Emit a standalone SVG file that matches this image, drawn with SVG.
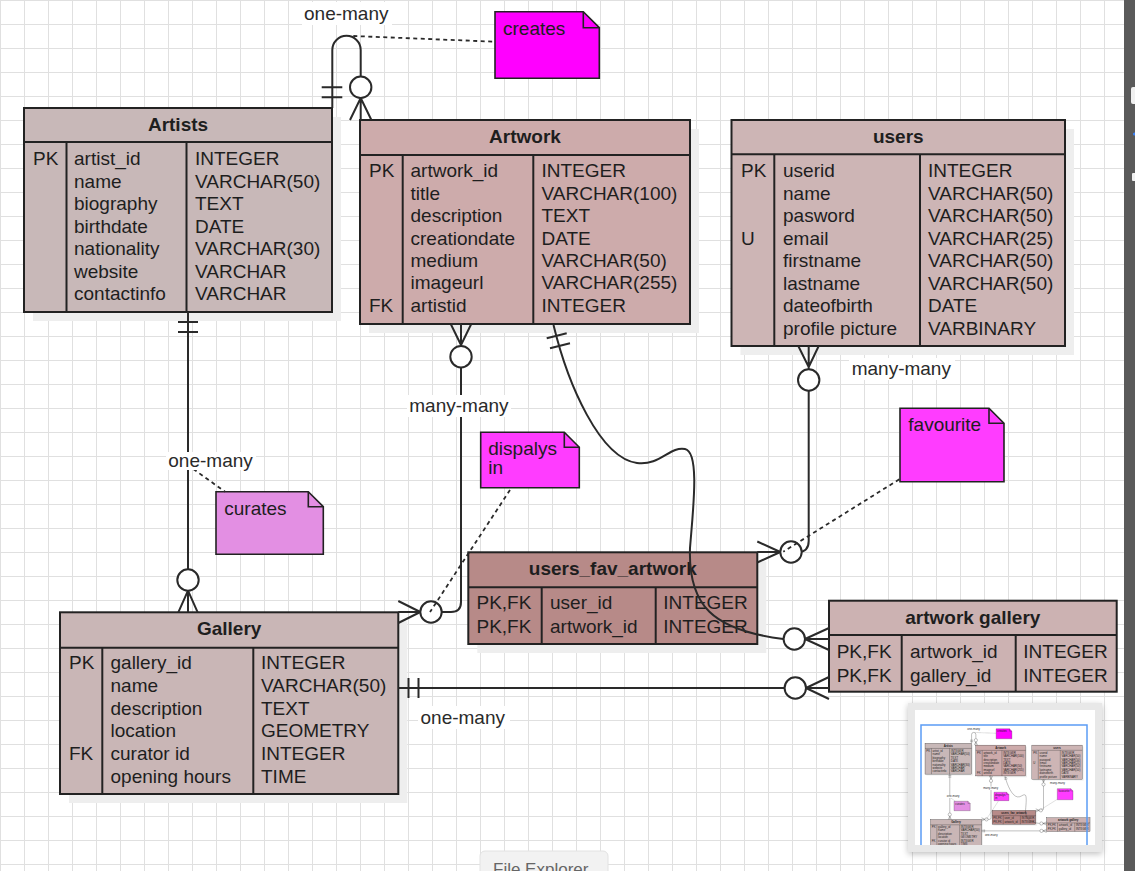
<svg xmlns="http://www.w3.org/2000/svg" xmlns:xlink="http://www.w3.org/1999/xlink" width="1135" height="871" viewBox="0 0 1135 871">
  <defs>
    <pattern id="grid" width="24" height="24" patternUnits="userSpaceOnUse">
      <path d="M0.5 0 V24 M0 0.5 H24" fill="none" stroke="#e0e0e0" stroke-width="1"/>
    </pattern>
    <clipPath id="miniClip">
      <rect x="915" y="710" width="180" height="135"/>
    </clipPath>
    <filter id="cardShadow" x="-10%" y="-10%" width="120%" height="125%">
      <feGaussianBlur in="SourceAlpha" stdDeviation="3"/>
      <feOffset dx="0" dy="2"/>
      <feComponentTransfer><feFuncA type="linear" slope="0.25"/></feComponentTransfer>
      <feMerge><feMergeNode/><feMergeNode in="SourceGraphic"/></feMerge>
    </filter>
  </defs>
  <style>
    text { font-family: "Liberation Sans", Arial, sans-serif; font-size: 19px; fill: #1e1e1e; }
    .hdr { font-weight: bold; text-anchor: middle; }
    .tbl { stroke: #222; stroke-width: 2; }
    .div { stroke: #222; stroke-width: 2; }
    .shadow { fill: #eeeeee; }
    .c-artists { fill: #c8b8b8; }
    .c-artwork { fill: #cdabab; }
    .c-users { fill: #cdb5b5; }
    .c-gallery { fill: #c9b6b6; }
    .c-fav { fill: #b78a88; }
    .c-ag { fill: #ccb2b2; }
    .note { stroke: #222; stroke-width: 1.6; }
    .fold { fill: none; stroke: #222; stroke-width: 1.6; }
    .edge { fill: none; stroke: #2a2a2a; stroke-width: 2; }
    .end { fill: #ffffff; stroke: #2a2a2a; stroke-width: 2; }
    .dash { fill: none; stroke: #2a2a2a; stroke-width: 1.8; stroke-dasharray: 4 3.5; }
    .lblbg { fill: #ffffff; }
    .lbl { fill: #2a2a2a; }
  </style>

  <!-- canvas -->
  <rect width="1135" height="871" fill="#ffffff"/>
  <rect width="1124" height="871" fill="url(#grid)"/>

  <g id="diagram">
    <!-- Artists -->
    <g id="artists">
      <rect class="shadow" x="33" y="117" width="308" height="204"/>
      <rect class="tbl c-artists" x="24" y="108" width="308" height="204"/>
      <line class="div" x1="24" y1="142" x2="332" y2="142"/>
      <line class="div" x1="66.5" y1="142" x2="66.5" y2="312"/>
      <line class="div" x1="186.5" y1="142" x2="186.5" y2="312"/>
      <text class="hdr" x="178" y="131">Artists</text>
      <text x="33" y="165">PK</text>
      <text y="165"><tspan x="74">artist_id</tspan><tspan x="74" dy="22.5">name</tspan><tspan x="74" dy="22.5">biography</tspan><tspan x="74" dy="22.5">birthdate</tspan><tspan x="74" dy="22.5">nationality</tspan><tspan x="74" dy="22.5">website</tspan><tspan x="74" dy="22.5">contactinfo</tspan></text>
      <text y="165"><tspan x="195">INTEGER</tspan><tspan x="195" dy="22.5">VARCHAR(50)</tspan><tspan x="195" dy="22.5">TEXT</tspan><tspan x="195" dy="22.5">DATE</tspan><tspan x="195" dy="22.5">VARCHAR(30)</tspan><tspan x="195" dy="22.5">VARCHAR</tspan><tspan x="195" dy="22.5">VARCHAR</tspan></text>
    </g>

    <!-- Artwork -->
    <g id="artwork">
      <rect class="shadow" x="369" y="129" width="330" height="204"/>
      <rect class="tbl c-artwork" x="360" y="120" width="330" height="204"/>
      <line class="div" x1="360" y1="155" x2="690" y2="155"/>
      <line class="div" x1="402.7" y1="155" x2="402.7" y2="324"/>
      <line class="div" x1="533.3" y1="155" x2="533.3" y2="324"/>
      <text class="hdr" x="525" y="142.5">Artwork</text>
      <text x="369" y="177.3">PK</text>
      <text x="369" y="311.7">FK</text>
      <text y="177.3"><tspan x="410.5">artwork_id</tspan><tspan x="410.5" dy="22.4">title</tspan><tspan x="410.5" dy="22.4">description</tspan><tspan x="410.5" dy="22.4">creationdate</tspan><tspan x="410.5" dy="22.4">medium</tspan><tspan x="410.5" dy="22.4">imageurl</tspan><tspan x="410.5" dy="22.4">artistid</tspan></text>
      <text y="177.3"><tspan x="541.5">INTEGER</tspan><tspan x="541.5" dy="22.4">VARCHAR(100)</tspan><tspan x="541.5" dy="22.4">TEXT</tspan><tspan x="541.5" dy="22.4">DATE</tspan><tspan x="541.5" dy="22.4">VARCHAR(50)</tspan><tspan x="541.5" dy="22.4">VARCHAR(255)</tspan><tspan x="541.5" dy="22.4">INTEGER</tspan></text>
    </g>

    <!-- users -->
    <g id="users">
      <rect class="shadow" x="740.5" y="129" width="333.5" height="226"/>
      <rect class="tbl c-users" x="731.5" y="120" width="333.5" height="226"/>
      <line class="div" x1="731.5" y1="154.3" x2="1065" y2="154.3"/>
      <line class="div" x1="774.3" y1="154.3" x2="774.3" y2="346"/>
      <line class="div" x1="920" y1="154.3" x2="920" y2="346"/>
      <text class="hdr" x="898.3" y="142.5">users</text>
      <text x="741" y="177.3">PK</text>
      <text x="741" y="244.8">U</text>
      <text y="177.3"><tspan x="783">userid</tspan><tspan x="783" dy="22.5">name</tspan><tspan x="783" dy="22.5">pasword</tspan><tspan x="783" dy="22.5">email</tspan><tspan x="783" dy="22.5">firstname</tspan><tspan x="783" dy="22.5">lastname</tspan><tspan x="783" dy="22.5">dateofbirth</tspan><tspan x="783" dy="22.5">profile picture</tspan></text>
      <text y="177.3"><tspan x="928">INTEGER</tspan><tspan x="928" dy="22.5">VARCHAR(50)</tspan><tspan x="928" dy="22.5">VARCHAR(50)</tspan><tspan x="928" dy="22.5">VARCHAR(25)</tspan><tspan x="928" dy="22.5">VARCHAR(50)</tspan><tspan x="928" dy="22.5">VARCHAR(50)</tspan><tspan x="928" dy="22.5">DATE</tspan><tspan x="928" dy="22.5">VARBINARY</tspan></text>
    </g>

    <!-- Gallery -->
    <g id="gallery">
      <rect class="shadow" x="69" y="621.3" width="338.3" height="181.7"/>
      <rect class="tbl c-gallery" x="60" y="612.3" width="338.3" height="181.7"/>
      <line class="div" x1="60" y1="647.7" x2="398.3" y2="647.7"/>
      <line class="div" x1="102.3" y1="647.7" x2="102.3" y2="794"/>
      <line class="div" x1="253.3" y1="647.7" x2="253.3" y2="794"/>
      <text class="hdr" x="229.2" y="635.3">Gallery</text>
      <text x="69" y="669.3">PK</text>
      <text x="69" y="760.1">FK</text>
      <text y="669.3"><tspan x="110.5">gallery_id</tspan><tspan x="110.5" dy="22.7">name</tspan><tspan x="110.5" dy="22.7">description</tspan><tspan x="110.5" dy="22.7">location</tspan><tspan x="110.5" dy="22.7">curator id</tspan><tspan x="110.5" dy="22.7">opening hours</tspan></text>
      <text y="669.3"><tspan x="261">INTEGER</tspan><tspan x="261" dy="22.7">VARCHAR(50)</tspan><tspan x="261" dy="22.7">TEXT</tspan><tspan x="261" dy="22.7">GEOMETRY</tspan><tspan x="261" dy="22.7">INTEGER</tspan><tspan x="261" dy="22.7">TIME</tspan></text>
    </g>

    <!-- users_fav_artwork -->
    <g id="users_fav_artwork">
      <rect class="shadow" x="477.3" y="561.3" width="289" height="91.7"/>
      <rect class="tbl c-fav" x="468.3" y="552.3" width="289" height="91.7"/>
      <line class="div" x1="468.3" y1="587.3" x2="757.3" y2="587.3"/>
      <line class="div" x1="541.7" y1="587.3" x2="541.7" y2="644"/>
      <line class="div" x1="655.7" y1="587.3" x2="655.7" y2="644"/>
      <text class="hdr" x="612.8" y="575.3">users_fav_artwork</text>
      <text y="609.3"><tspan x="476.5">PK,FK</tspan><tspan x="476.5" dy="23.4">PK,FK</tspan></text>
      <text y="609.3"><tspan x="550">user_id</tspan><tspan x="550" dy="23.4">artwork_id</tspan></text>
      <text y="609.3"><tspan x="663.3">INTEGER</tspan><tspan x="663.3" dy="23.4">INTEGER</tspan></text>
    </g>

    <!-- artwork gallery -->
    <g id="artwork_gallery">
      <rect class="tbl c-ag" x="829" y="600.7" width="287.7" height="91"/>
      <line class="div" x1="829" y1="635" x2="1116.7" y2="635"/>
      <line class="div" x1="901.7" y1="635" x2="901.7" y2="691.7"/>
      <line class="div" x1="1015.7" y1="635" x2="1015.7" y2="691.7"/>
      <text class="hdr" x="972.8" y="623.5">artwork gallery</text>
      <text y="658.3"><tspan x="836.7">PK,FK</tspan><tspan x="836.7" dy="23.4">PK,FK</tspan></text>
      <text y="658.3"><tspan x="910">artwork_id</tspan><tspan x="910" dy="23.4">gallery_id</tspan></text>
      <text y="658.3"><tspan x="1023.3">INTEGER</tspan><tspan x="1023.3" dy="23.4">INTEGER</tspan></text>
    </g>

    <!-- notes -->
    <g id="note_creates">
      <path class="note" fill="#ff00ff" d="M495 11.7 H583.3 L599.3 27.7 V78.3 H495 Z"/>
      <path class="fold" d="M583.3 11.7 V27.7 H599.3"/>
      <text x="503" y="34.5">creates</text>
    </g>
    <g id="note_curates">
      <path class="note" fill="#e38fe3" d="M216 491.7 H308.3 L323.3 506.7 V554.3 H216 Z"/>
      <path class="fold" d="M308.3 491.7 V506.7 H323.3"/>
      <text x="224.3" y="515">curates</text>
    </g>
    <g id="note_displays">
      <path class="note" fill="#ff3cff" d="M480.7 432.3 H564.3 L579.3 447.3 V487.7 H480.7 Z"/>
      <path class="fold" d="M564.3 432.3 V447.3 H579.3"/>
      <text x="488.3" y="455">dispalys<tspan x="488.3" dy="19">in</tspan></text>
    </g>
    <g id="note_favourite">
      <path class="note" fill="#ff3cff" d="M900 408.3 H989 L1004 423.3 V481.7 H900 Z"/>
      <path class="fold" d="M989 408.3 V423.3 H1004"/>
      <text x="908.3" y="430.7">favourite</text>
    </g>

    <!-- connectors -->
    <g id="connectors">
      <!-- Artists 1 : N Artwork (creates) -->
      <path class="edge" d="M332.3 108 V50 A14.2 14.2 0 0 1 360.7 50 V76.6"/>
      <path class="edge" d="M321.7 87.3 H342.3 M321.7 97.3 H342.3"/>
      <path class="edge" d="M360.7 98 L350 120 M360.7 98 L371.4 120 M360.7 98 V120"/>
      <circle class="end" cx="360.7" cy="87.3" r="10.7"/>

      <!-- Artists 1 : N Gallery (curates) -->
      <path class="edge" d="M188 312 V569.3"/>
      <path class="edge" d="M178 322 H198 M178 332 H198"/>
      <path class="edge" d="M188 590.7 L178.3 612.3 M188 590.7 L197.7 612.3 M188 590.7 V612.3"/>
      <circle class="end" cx="188" cy="580" r="10.7"/>

      <!-- Artwork N : N Gallery (displays in) -->
      <path class="edge" d="M461 324 L451 324 M461 345 L451 324.5 M461 345 L471 324.5 M461 324 V346"/>
      <path class="edge" d="M461 367.4 V602 Q461 612 451 612 H441.7"/>
      <path class="edge" d="M420.3 612 L398.3 601 M420.3 612 L398.3 623 M420.3 612 H398.3"/>
      <circle class="end" cx="461" cy="356.7" r="10.7"/>
      <circle class="end" cx="431" cy="612" r="10.7"/>

      <!-- users N : N Artwork via users_fav_artwork (favourite) -->
      <path class="edge" d="M798.3 346 L808.7 367 M818.7 346 L808.7 367 M808.7 346 V369"/>
      <path class="edge" d="M808.7 390.7 V541 Q808.7 552 798 552"/>
      <path class="edge" d="M780.3 552 L757.3 541.5 M780.3 552 L757.3 562.5 M780.3 552 H757.3"/>
      <circle class="end" cx="808.7" cy="380" r="10.7"/>
      <circle class="end" cx="791" cy="552" r="10.7"/>

      <!-- Artwork 1 : N artwork gallery -->
      <path class="edge" d="M553.5 325 C568 385, 600 458, 637 463 C660 466, 670 446, 685 449 C700 452, 693 510, 690 548 C688 605, 712 630, 783.3 639"/>
      <path class="edge" d="M546.7 338.3 L566.7 333.3 M550 348.3 L570 343.3"/>
      <path class="edge" d="M805 639 L829 628 M805 639 L829 650 M805 639 H829"/>
      <circle class="end" cx="794.3" cy="639" r="10.7"/>

      <!-- Gallery 1 : N artwork gallery -->
      <path class="edge" d="M398.3 688 H784.3"/>
      <path class="edge" d="M408.5 678 V698 M418.5 678 V698"/>
      <path class="edge" d="M806 688 L829 677 M806 688 L829 699 M806 688 H829"/>
      <circle class="end" cx="795.3" cy="688" r="10.7"/>

      <!-- note links -->
      <path class="dash" d="M353.3 36 L495 41.7"/>
      <path class="dash" d="M193.3 469 L225 491.7"/>
      <path class="dash" d="M510 490 L430 612"/>
      <path class="dash" d="M899.3 479.3 L783.3 551.7"/>

      <!-- relationship labels -->
      <rect class="lblbg" x="302" y="2" width="90" height="23"/>
      <text class="lbl" x="304" y="20">one-many</text>
      <rect class="lblbg" x="407" y="395" width="104" height="22"/>
      <text class="lbl" x="409.3" y="411.5">many-many</text>
      <rect class="lblbg" x="166" y="452" width="90" height="18"/>
      <text class="lbl" x="168.3" y="466.7">one-many</text>
      <rect class="lblbg" x="849" y="358" width="106" height="22"/>
      <text class="lbl" x="851.7" y="375">many-many</text>
      <rect class="lblbg" x="418" y="706" width="92" height="23"/>
      <text class="lbl" x="420.5" y="724">one-many</text>
    </g>
  </g>

  <!-- overview card -->
  <g id="overview">
    <rect x="908" y="703" width="194" height="149" fill="#e8e8e8" filter="url(#cardShadow)"/>
    <rect x="915" y="710" width="180" height="135" fill="#ffffff"/>
    <g clip-path="url(#miniClip)">
      <use xlink:href="#diagram" href="#diagram" transform="translate(921.4 727) scale(0.151)"/>
      <rect x="921" y="725" width="166" height="140" fill="none" stroke="#5b9cf5" stroke-width="1.5"/>
    </g>
  </g>

  <!-- file explorer tab -->
  <g id="file_explorer_tab">
    <rect x="480" y="851" width="128" height="30" rx="5" fill="#f2f2f2" stroke="#e2e2e2"/>
    <text x="493" y="875" style="font-size:17px; fill:#666666;">File Explorer</text>
  </g>

  <!-- side panel -->
  <g id="side_panel">
    <rect x="1124" y="0" width="11" height="871" fill="#5a5a5a"/>
    <rect x="1131" y="87" width="8" height="17" rx="2" fill="#f0f0f0"/>
    <circle cx="1134.5" cy="134" r="1.6" fill="#3b82f6"/>
    <rect x="1132" y="173" width="6" height="8" rx="1" fill="#f0f0f0"/>
  </g>
</svg>
